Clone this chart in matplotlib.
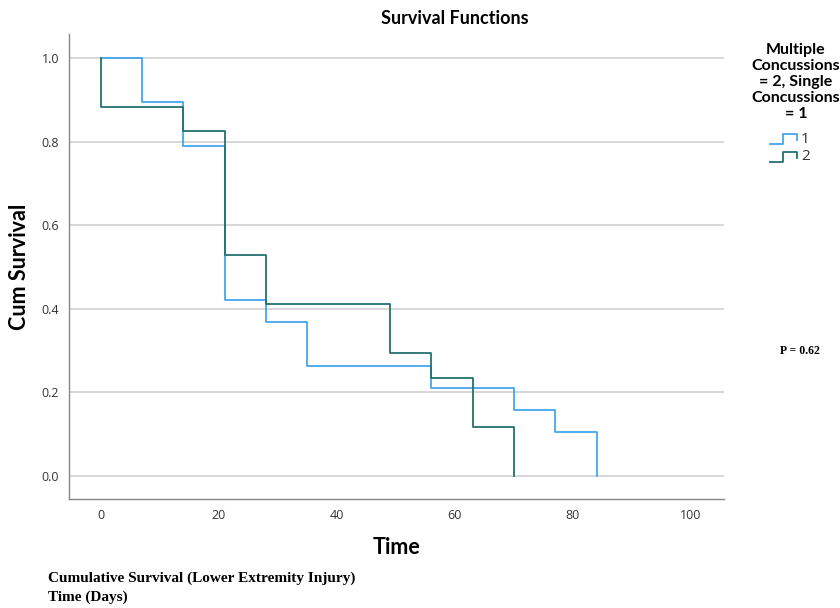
import matplotlib
matplotlib.use("Agg")
import matplotlib.pyplot as plt
from matplotlib.lines import Line2D

# Kaplan-Meier step values
days_single = [0, 7, 14, 21, 28, 35, 56, 70, 77, 84]
surv_single = [1.0, 0.895, 0.789, 0.421, 0.368, 0.263, 0.211, 0.158, 0.105, 0.0]

days_multi = [0, 0, 14, 21, 28, 49, 56, 63, 70]
surv_multi = [1.0, 0.882, 0.824, 0.529, 0.412, 0.294, 0.235, 0.118, 0.0]

group_labels = ["1", "2"]
colors = ["#45a6ec", "#24716e"]

fig = plt.figure(figsize=(8.4, 6.08), dpi=100)
ax = fig.add_axes([0.0821, 0.1793, 0.7798, 0.7647])

ax.step(days_single, surv_single, where="post", color=colors[0], lw=1.3)
ax.step(days_multi, surv_multi, where="post", color=colors[1], lw=1.3)

ax.set_xlim(-5.4, 105.6)
ax.set_ylim(-0.055, 1.057)
ax.set_xticks([0, 20, 40, 60, 80, 100])
ax.set_yticks([0.0, 0.2, 0.4, 0.6, 0.8, 1.0])
ax.set_yticklabels(["0.0", "0.2", "0.4", "0.6", "0.8", "1.0"])
ax.tick_params(length=0, labelsize=9, colors="#333333", pad=7)
for lbl in ax.get_xticklabels() + ax.get_yticklabels():
    lbl.set_family("Open Sans")
ax.grid(axis="y", color="#d4d4d4", lw=1.3)
ax.set_axisbelow(True)
for s in ["top", "right"]:
    ax.spines[s].set_visible(False)
for s in ["left", "bottom"]:
    ax.spines[s].set_color("#888888")
    ax.spines[s].set_linewidth(1.0)

ax.set_xlabel("Time", family="Lato", fontweight="bold", fontsize=15.5)
ax.set_ylabel("Cum Survival", family="Lato", fontweight="bold", fontsize=15.5)
ax.xaxis.set_label_coords(0.5, -0.082)
ax.yaxis.set_label_coords(-0.0595, 0.5)
fig.text(0.542, 0.97, "Survival Functions", family="Lato", fontweight="bold",
         fontsize=13, ha="center", va="center")

# legend, drawn by hand
fig.text(796 / 840, 1 - 82 / 608, "Multiple\nConcussions\n= 2, Single\nConcussions\n= 1",
         family="Lato", fontweight="bold", fontsize=11.5, ha="center", va="center",
         linespacing=1.2)
for i, (lab, c) in enumerate(zip(group_labels, colors)):
    yy = 1 - (139 + 18 * i) / 608
    x0, x1, x3 = 770 / 840, 783 / 840, 797 / 840
    fig.add_artist(Line2D([x0, x1, x1, x3, x3],
                          [yy - 0.008, yy - 0.008, yy + 0.008, yy + 0.008, yy - 0.002],
                          color=c, lw=1.3, transform=fig.transFigure))
    fig.text(801 / 840, yy, lab, family="Open Sans", fontsize=11, va="center", ha="left", color="#333333")

fig.text(800 / 840, 1 - 351 / 608, "P = 0.62", family="Liberation Serif", fontweight="bold",
         fontsize=8.5, ha="center", va="center")
fig.text(48 / 840, 1 - 578 / 608, "Cumulative Survival (Lower Extremity Injury)",
         family="Liberation Serif", fontweight="bold", fontsize=11, va="center")
fig.text(48 / 840, 1 - 597 / 608, "Time (Days)",
         family="Liberation Serif", fontweight="bold", fontsize=11, va="center")

fig.savefig("out.png", dpi=100, facecolor="white")
